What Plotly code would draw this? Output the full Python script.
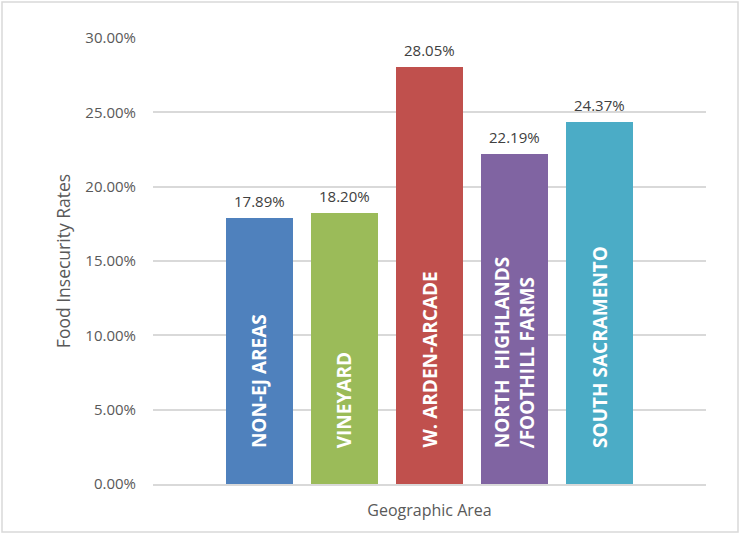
import plotly.graph_objects as go

# données
areas = ["NON-EJ AREAS", "VINEYARD", "W. ARDEN-ARCADE",
         "NORTH  HIGHLANDS<br>/FOOTHILL FARMS", "SOUTH SACRAMENTO"]
rates = [17.89, 18.20, 28.05, 22.19, 24.37]
colors = ["#4F81BD", "#9BBB59", "#C0504D", "#8064A2", "#4BACC6"]
y_ticks = [0, 5, 10, 15, 20, 25, 30]
y_tick_labels = ["0.00%", "5.00%", "10.00%", "15.00%", "20.00%", "25.00%", "30.00%"]

FONT = "Open Sans, Lato, sans-serif"
GRIS = "#595959"

xs = list(range(len(areas)))

fig = go.Figure(go.Bar(
    x=xs, y=rates,
    marker=dict(color=colors, line=dict(width=0)),
    width=0.785,
    hoverinfo="skip",
))

annots = []
# étiquettes de valeur au-dessus des barres
for x, r in zip(xs, rates):
    annots.append(dict(
        x=x, y=r, xref="x", yref="y",
        text=f"{r:.2f}%", showarrow=False,
        yanchor="bottom", yshift=5,
        font=dict(family=FONT, size=15, color="#404040"),
    ))
# noms des zones, verticaux, en blanc dans les barres
for x, a in zip(xs, areas):
    annots.append(dict(
        x=x, y=0, xref="x", yref="y",
        text=f"<b>{a}</b>", showarrow=False,
        textangle=-90, yanchor="bottom", yshift=34,
        align="left",
        font=dict(family=FONT, size=19, color="white"),
    ))

fig.update_layout(
    width=741, height=534,
    paper_bgcolor="white", plot_bgcolor="white",
    margin=dict(l=153, r=35, t=38, b=50),
    font=dict(family=FONT, size=15, color=GRIS),
    showlegend=False,
    bargap=0,
    xaxis=dict(
        range=[-1.245, 5.245],
        showticklabels=False, showgrid=False, zeroline=False,
        showline=True, linecolor="#D9D9D9", linewidth=1.5,
        title=dict(text="Geographic Area", standoff=20,
                   font=dict(family=FONT, size=16, color=GRIS)),
    ),
    yaxis=dict(
        range=[0, 30], tickvals=y_ticks, ticktext=y_tick_labels,
        showgrid=True, gridcolor="#D9D9D9", gridwidth=1.5,
        zeroline=False, ticks="", ticklabelstandoff=16,
        tickfont=dict(family=FONT, size=15, color=GRIS),
        title=dict(text="Food Insecurity Rates", standoff=10,
                   font=dict(family=FONT, size=17.5, color=GRIS)),
    ),
    annotations=annots,
    shapes=[dict(
        type="rect", xref="paper", yref="paper",
        x0=-151 / 553, x1=1 + 32 / 553, y0=-48 / 446, y1=1 + 36 / 446,
        line=dict(color="#D9D9D9", width=1.5), fillcolor="rgba(0,0,0,0)",
        layer="below",
    )],
)

# pas de marge autour du graphique dans la page, pas de barre d'outils
fig.write_html("out.html", config={"displayModeBar": False},
               post_script="document.body.style.margin='0';")
